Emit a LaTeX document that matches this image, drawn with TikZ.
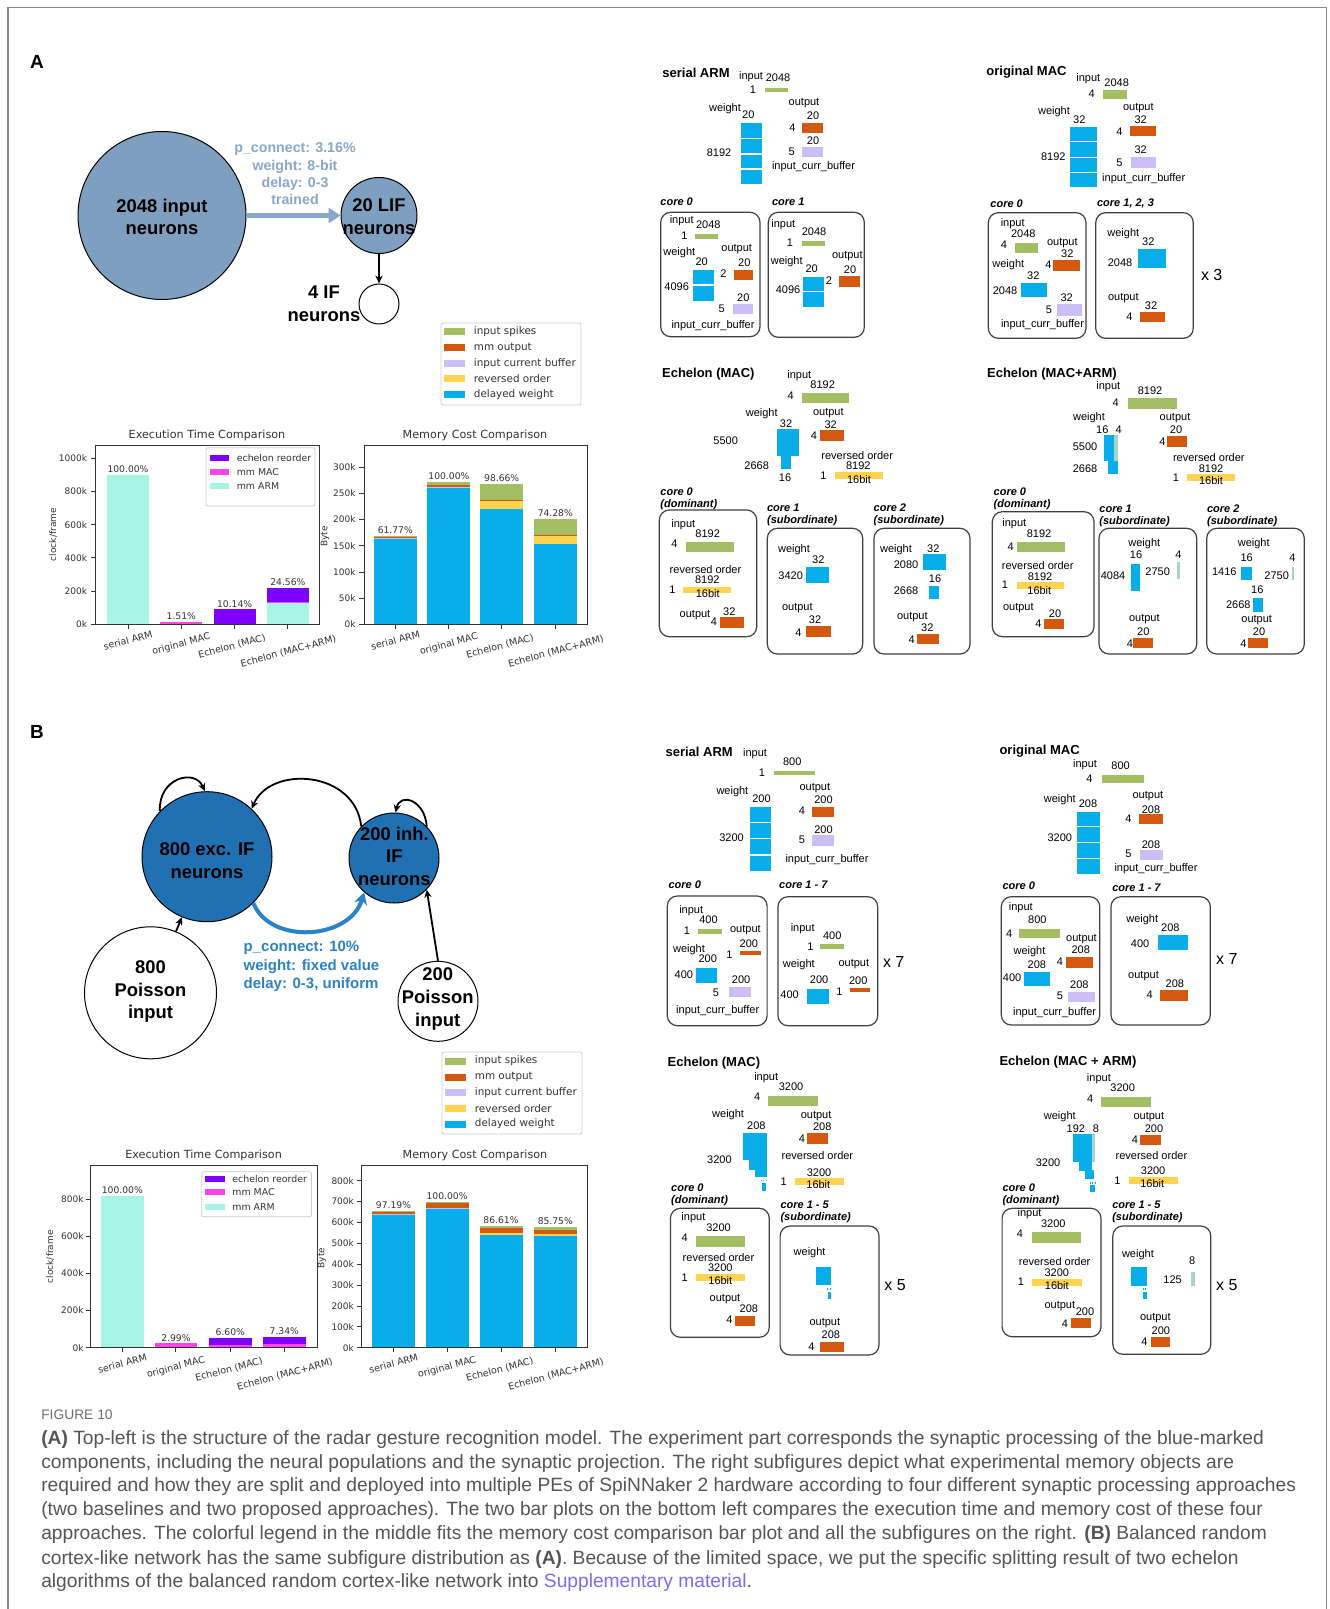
\documentclass[tikz,border=0pt]{standalone}
\usepackage{fontspec}
\setmainfont{Liberation Sans}
\newfontfamily\mplfont{DejaVu Sans}
\usetikzlibrary{arrows.meta}

\definecolor{frm}{HTML}{8A8A8A}
\definecolor{netA}{HTML}{7F9FC0}
\definecolor{arrA}{HTML}{89A8C9}
\definecolor{netB}{HTML}{2070B2}
\definecolor{arrB}{HTML}{2B82C6}
\definecolor{spk}{HTML}{A3BE63}
\definecolor{outc}{HTML}{D4590F}
\definecolor{bufc}{HTML}{CBBDF5}
\definecolor{revc}{HTML}{FFD24F}
\definecolor{wgtc}{HTML}{08AEEA}
\definecolor{tlc}{HTML}{A9D3C9}
\definecolor{mmarm}{HTML}{A6F4E3}
\definecolor{mmmac}{HTML}{FF44E8}
\definecolor{reord}{HTML}{8000FF}
\definecolor{axc}{HTML}{333333}
\definecolor{capc}{HTML}{555555}
\definecolor{linkc}{HTML}{7B6CF0}
\definecolor{boxc}{HTML}{404040}
\definecolor{legc}{HTML}{CCCCCC}

\newcounter{lc}
% small label
\newcommand\lb[2]{\stepcounter{lc}\node[lb] (l\arabic{lc}) at (#1) {#2};}
% sub-figure heading
\newcommand\hd[2]{\stepcounter{lc}\node[hdr] (l\arabic{lc}) at (#1) {#2};}
% core caption
\newcommand\cl[2]{\stepcounter{lc}\node[corel] (l\arabic{lc}) at (#1) {#2};}
% replication factor
\newcommand\rep[2]{\stepcounter{lc}\node[times] (l\arabic{lc}) at (#1) {#2};}
% memory object block
\newcommand\rc[3]{\fill[#1] (#2) rectangle (#3);}
% core frame
\newcommand\bx[2]{\draw[corebox] (#1) rectangle (#2);}
% divider inside a weight block
\newcommand\dv[3]{\draw[white, line width=0.6pt] (#1,#3) -- (#2,#3);}
% dotted continuation of an echelon
\newcommand\dt[3]{\draw[wgtc, line width=0.6pt, dash pattern=on 0.5pt off 0.8pt] (#1,#3) -- (#2,#3);}

\tikzset{
  x=0.5pt, y=-0.5pt,
  lb/.style={inner sep=0pt, font=\fontsize{5.5}{6.6}\selectfont},
  hdr/.style={inner sep=0pt, anchor=west, font=\bfseries\fontsize{6.5}{7.8}\selectfont},
  corel/.style={inner sep=0pt, anchor=west, align=left, font=\bfseries\itshape\fontsize{5.5}{6}\selectfont},
  times/.style={inner sep=0pt, font=\fontsize{8}{9}\selectfont},
  corebox/.style={draw=boxc, line width=0.6pt, rounded corners=5pt},
  netw/.style={inner sep=0pt, align=center, font=\bfseries\fontsize{9.2}{11.3}\selectfont},
  pop/.style={circle, draw=black, line width=0.5pt, inner sep=0pt},
  axl/.style={draw=axc, line width=0.45pt},
  tk/.style={inner sep=0pt, text=axc, font=\mplfont\fontsize{4.5}{5.4}\selectfont},
  xt/.style={inner sep=0pt, rotate=15, text=axc, font=\mplfont\fontsize{4.75}{5.6}\selectfont},
  ttl/.style={inner sep=0pt, text=axc, font=\mplfont\fontsize{5.6}{6.7}\selectfont},
  pct/.style={inner sep=0pt, anchor=south, yshift=0.8pt, text=axc, font=\mplfont\fontsize{4.6}{5.5}\selectfont},
  lgt/.style={inner sep=0pt, anchor=west, text=axc, font=\mplfont\fontsize{4.7}{5.6}\selectfont},
  mlg/.style={inner sep=0pt, anchor=west, text=axc, font=\mplfont\fontsize{5.2}{6.2}\selectfont},
  legbox/.style={draw=legc, line width=0.4pt, fill=white, rounded corners=1pt},
  captxt/.style={inner sep=0pt, anchor=west, text=capc, font=\fontsize{9.6}{12}\selectfont},
  blk/.style={line width=0.9pt, -{Stealth[length=4pt,width=3.6pt]}},
}

\begin{document}
\begin{tikzpicture}
\useasboundingbox (0,0) rectangle (1329,1609);
\clip (0,0) rectangle (1329,1609);
\fill[white] (0,0) rectangle (1329,1609);
\draw[frm, line width=0.9pt] (8,1620) -- (8,7.5) -- (1326.5,7.5) -- (1326.5,1620);

%% ================= PANEL A =================
\node[inner sep=0pt, font=\bfseries\fontsize{9.5}{11}\selectfont] (panA) at (37,62) {A};

% network
\node[pop, fill=netA, minimum size=84pt] (inA) at (162,215.5) {};
\node[netw] (inAt) at (162,217) {2048 input\\neurons};
\node[pop, fill=netA, minimum size=38pt] (lif) at (379,215.5) {};
\node[netw] (lift) at (379,216.5) {20 LIF\\neurons};
\node[pop, fill=white, minimum size=20pt] (ifn) at (379,304) {};
\node[netw] (ift) at (324,304) {4 IF\\neurons};
\draw[arrA, line width=2.4pt, -{Triangle[length=6pt,width=7.5pt]}] (inA.east) -- (lif.west);
\draw[blk] (lif.south) -- (ifn.north);
\node[inner sep=0pt, align=center, text=arrA, font=\bfseries\fontsize{7.1}{8.7}\selectfont] (pcA) at (295,174) {p\_connect: 3.16\%\\weight: 8-bit\\delay: 0-3\\trained};

% colour legend
\draw[legbox] (441,323) rectangle (581,405);
\rc{spk}{444,328.5}{465,335.5}  \node[mlg] (mlA1) at (473.5,332) {input spikes};
\rc{outc}{444,344.5}{465,351.5} \node[mlg] (mlA2) at (473.5,348) {mm output};
\rc{bufc}{444,360.5}{465,367.5} \node[mlg] (mlA3) at (473.5,364) {input current buffer};
\rc{revc}{444,375.5}{465,382.5} \node[mlg] (mlA4) at (473.5,379) {reversed order};
\rc{wgtc}{444,391.5}{465,398.5} \node[mlg] (mlA5) at (473.5,395) {delayed weight};

% execution time chart
\node[ttl] (etA) at (207,435.7) {Execution Time Comparison};
\begin{scope}[shift={(0,624.3)}, y=0.083pt]
  \fill[mmarm] (107,0) rectangle (149,900);
  \fill[mmmac] (160.3,0) rectangle (202.3,13.6);
  \fill[mmmac] (213.6,0) rectangle (255.6,3);
  \fill[reord] (213.6,3) rectangle (255.6,91.3);
  \fill[mmarm] (266.9,0) rectangle (308.9,130);
  \fill[mmmac] (266.9,130) rectangle (308.9,133);
  \fill[reord] (266.9,133) rectangle (308.9,221);
  \foreach \v in {0,200,400,600,800,1000} {
    \draw[axl] (95.4,\v) -- (90.6,\v);
    \node[tk, anchor=east] (ea\v) at (87.5,\v) {\v k};}
  \node[pct] (pA1) at (128,900) {100.00\%};
  \node[pct] (pA2) at (181.3,13.6) {1.51\%};
  \node[pct] (pA3) at (234.6,91.3) {10.14\%};
  \node[pct] (pA4) at (287.9,221) {24.56\%};
\end{scope}
\draw[axl] (95.4,445) rectangle (319.6,624.3);
\foreach \x in {128,181.3,234.6,287.9} \draw[axl] (\x,624.3) -- (\x,628.8);
\node[tk, rotate=90] (ylA) at (53,534.6) {clock/frame};
\node[xt] (xA1) at (128,640.3) {serial ARM};
\node[xt] (xA2) at (181.3,644.3) {original MAC};
\node[xt] (xA3) at (232,646.5) {Echelon (MAC)};
\node[xt] (xA4) at (288.5,651.5) {Echelon (MAC+ARM)};
\draw[legbox] (206,447.7) rectangle (315,506);
\fill[reord] (209.6,454.7) rectangle (228.6,460.7) ; \node[lgt] (lgA1) at (236.4,457.7) {echelon reorder};
\fill[mmmac] (209.6,468.7) rectangle (228.6,474.7) ; \node[lgt] (lgA2) at (236.4,471.7) {mm MAC};
\fill[mmarm] (209.6,483) rectangle (228.6,489) ; \node[lgt] (lgA3) at (236.4,486) {mm ARM};

% memory cost chart
\node[ttl] (mtA) at (475,435.7) {Memory Cost Comparison};
\begin{scope}[shift={(0,624.3)}, y=0.26167pt]
  \fill[wgtc] (373.8,0) rectangle (416.8,164);
  \fill[bufc] (373.8,164) rectangle (416.8,165);
  \fill[outc] (373.8,165) rectangle (416.8,166.5);
  \fill[spk]  (373.8,166.5) rectangle (416.8,169);
  \fill[wgtc] (427.4,0) rectangle (470.4,262);
  \fill[bufc] (427.4,262) rectangle (470.4,263);
  \fill[outc] (427.4,263) rectangle (470.4,266);
  \fill[spk]  (427.4,266) rectangle (470.4,272);
  \fill[wgtc] (480.2,0) rectangle (523.2,220);
  \fill[revc] (480.2,220) rectangle (523.2,236);
  \fill[outc] (480.2,236) rectangle (523.2,238);
  \fill[spk]  (480.2,238) rectangle (523.2,268);
  \fill[wgtc] (533.8,0) rectangle (576.8,153);
  \fill[revc] (533.8,153) rectangle (576.8,169);
  \fill[outc] (533.8,169) rectangle (576.8,171);
  \fill[spk]  (533.8,171) rectangle (576.8,202);
  \foreach \v in {0,50,100,150,200,250,300} {
    \draw[axl] (364,\v) -- (359.2,\v);
    \node[tk, anchor=east] (ma\v) at (356,\v) {\v k};}
  \node[pct] (qA1) at (395.3,169) {61.77\%};
  \node[pct] (qA2) at (448.9,272) {100.00\%};
  \node[pct] (qA3) at (501.7,268) {98.66\%};
  \node[pct] (qA4) at (555.3,202) {74.28\%};
\end{scope}
\draw[axl] (364,445) rectangle (587.5,624.3);
\foreach \x in {395.3,448.9,501.7,555.3} \draw[axl] (\x,624.3) -- (\x,628.8);
\node[tk, rotate=90] (byA) at (325,536.7) {Byte};
\node[xt] (yA1) at (395.3,640.3) {serial ARM};
\node[xt] (yA2) at (448.9,644.3) {original MAC};
\node[xt] (yA3) at (500,646.5) {Echelon (MAC)};
\node[xt] (yA4) at (556,651.5) {Echelon (MAC+ARM)};

% ---- serial ARM (A)
\hd{662,72.7}{serial ARM}
\lb{751,76.7}{input} \lb{778,77.7}{2048} \lb{753,89.3}{1} \rc{spk}{765,87.7}{787.7,92}
\lb{725,108.3}{weight} \lb{748.3,114.3}{20}
\rc{wgtc}{741,123.3}{762,184.3} \dv{741}{762}{138.3} \dv{741}{762}{154} \dv{741}{762}{169}
\lb{719,152.7}{8192}
\lb{804,103.3}{output} \lb{813,116}{20} \lb{792.3,127.3}{4} \rc{outc}{802.3,122.7}{823.3,132.7}
\lb{813,140.7}{20} \lb{791.7,151.7}{5} \rc{bufc}{802.3,146.7}{823.3,157.3}
\lb{813.5,166.7}{input\_curr\_buffer}
\cl{660,201.7}{core 0} \cl{771.7,201.7}{core 1}
\bx{660.7,212.3}{760,336.7} \bx{768.3,212.3}{864.3,337.3}
\lb{681.7,220.7}{input} \lb{708.3,225}{2048} \lb{684.3,236}{1} \rc{spk}{695,234.3}{718.3,239}
\lb{679.3,252.7}{weight} \lb{701.7,261.7}{20} \lb{736.7,249.3}{output} \lb{744.3,262.7}{20}
\lb{723.3,273.3}{2} \rc{outc}{734,270}{753.3,280}
\rc{wgtc}{693.3,270}{714,300.7} \dv{693.3}{714}{285} \lb{676.7,286.7}{4096}
\lb{743.3,297.3}{20} \lb{721.7,308.3}{5} \rc{bufc}{732.7,304}{753.3,314.3}
\lb{713,326}{input\_curr\_buffer}
\lb{783.3,225}{input} \lb{814,231.7}{2048} \lb{790,242.7}{1} \rc{spk}{801.7,241}{825,245.7}
\lb{786.7,261.7}{weight} \lb{811.7,268.3}{20} \lb{847.3,255.7}{output} \lb{850,269.3}{20}
\lb{829,280.7}{2} \rc{outc}{839.3,276}{860,286.7}
\rc{wgtc}{802.7,276.7}{824,306.7} \dv{802.7}{824}{291.7} \lb{788,290}{4096}

% ---- original MAC (A)
\hd{986,71.7}{original MAC}
\lb{1088.3,78.3}{input} \lb{1116.7,82.3}{2048} \lb{1091.7,93.3}{4} \rc{spk}{1103.3,90}{1126.7,99}
\lb{1054,111.7}{weight} \lb{1079.3,119.3}{32}
\rc{wgtc}{1070,126.7}{1096.7,187.3} \dv{1070}{1096.7}{141.7} \dv{1070}{1096.7}{157.3} \dv{1070}{1096.7}{172.7}
\lb{1053.3,156.7}{8192}
\lb{1138.3,108.3}{output} \lb{1140.7,120}{32} \lb{1119.3,131.7}{4} \rc{outc}{1130,126}{1155.7,136}
\lb{1140.7,150}{32} \lb{1119.3,162.7}{5} \rc{bufc}{1130.7,157.3}{1155.7,168.3}
\lb{1143.7,178.3}{input\_curr\_buffer}
\cl{990,204}{core 0} \cl{1096.7,204}{core 1, 2, 3}
\bx{988.3,212.7}{1086,338.3} \bx{1095.7,212.7}{1193.3,338.3}
\rep{1211.7,275}{x 3}
\lb{1012.7,223.3}{input} \lb{1023.3,234}{2048} \lb{1004,244.3}{4} \rc{spk}{1015,242.7}{1037.7,253.3}
\lb{1062.3,243.3}{output} \lb{1067.3,253.3}{32} \lb{1048.3,265}{4} \rc{outc}{1053.3,260}{1080,271}
\lb{1008.3,264.3}{weight} \lb{1033.3,276}{32} \lb{1005,290.7}{2048} \rc{wgtc}{1020.7,282.7}{1046.7,297.3}
\lb{1066.7,297.7}{32} \lb{1049,309.3}{5} \rc{bufc}{1056.7,304}{1081.7,315.7}
\lb{1042.5,325}{input\_curr\_buffer}
\lb{1123.3,233.3}{weight} \lb{1148.3,241.7}{32} \lb{1120,262.3}{2048} \rc{wgtc}{1138.3,249}{1166,268.3}
\lb{1123.3,298.3}{output} \lb{1151,306}{32} \lb{1129.3,316.7}{4} \rc{outc}{1140,311.7}{1165,321.7}

% ---- Echelon (MAC) (A)
\hd{661.7,374}{Echelon (MAC)}
\lb{799.3,376}{input} \lb{822.7,385}{8192} \lb{790.7,396}{4} \rc{spk}{801.7,393.3}{849.3,403.3}
\lb{761.7,413.3}{weight} \lb{786,424}{32}
\lb{828.3,413.3}{output} \lb{830.7,425}{32} \lb{814,436}{4} \rc{outc}{820,430}{844,440.7}
\rc{wgtc}{776.7,429.3}{799.3,456} \rc{wgtc}{780.7,455.5}{790.7,469}
\lb{725.7,440.7}{5500} \lb{756.7,466}{2668} \lb{785,477.7}{16}
\lb{857.2,456}{reversed order} \lb{858.3,465.7}{8192} \lb{823.3,476}{1} \rc{revc}{835,472.3}{883.3,479} \lb{859,479.3}{16bit}
\cl{660,498.3}{core 0\\(dominant)} \bx{659.3,510}{756.7,636.7}
\cl{766.7,515}{core 1\\(subordinate)} \bx{767.3,528.3}{862.7,654}
\cl{873.3,515}{core 2\\(subordinate)} \bx{874,528.3}{970,654}
\lb{683.3,525}{input} \lb{707.7,533.3}{8192} \lb{674.3,544}{4} \rc{spk}{685.7,542.3}{734.3,552.3}
\lb{705.5,570}{reversed order} \lb{707.3,580}{8192} \lb{672.3,589.3}{1} \rc{revc}{683.3,586.7}{730.7,593.3} \lb{707.7,593.3}{16bit}
\lb{695,615}{output} \lb{729.3,611.7}{32} \lb{714,621.7}{4} \rc{outc}{720,616.7}{744.3,628.3}
\lb{794,549.3}{weight} \lb{818.3,559.3}{32} \lb{790.7,576}{3420} \rc{wgtc}{806,566.7}{829.3,583.3}
\lb{797.3,607.7}{output} \lb{815,619.3}{32} \lb{798.3,632.3}{4} \rc{outc}{806,626}{830.7,637.3}
\lb{896,549.3}{weight} \lb{933.3,549}{32} \lb{906,564.3}{2080} \rc{wgtc}{922.7,554.3}{945.7,570}
\lb{935,578.3}{16} \lb{906,591}{2668} \rc{wgtc}{929.3,586}{939.3,599.3}
\lb{912.3,616.7}{output} \lb{927.3,627.7}{32} \lb{911.7,639.3}{4} \rc{outc}{916.7,634}{939.3,644}

% ---- Echelon (MAC+ARM) (A)
\hd{986.7,374}{Echelon (MAC+ARM)}
\lb{1108.3,386.7}{input} \lb{1150,390.7}{8192} \lb{1115.7,402.7}{4} \rc{spk}{1128.3,398.3}{1176.7,409}
\lb{1089,417.3}{weight} \lb{1102.3,430}{16} \lb{1118.7,430}{4}
\rc{wgtc}{1104.3,435}{1114.3,461} \rc{wgtc}{1108.3,460.5}{1117.7,474.3} \rc{tlc}{1114.3,435}{1117.7,461}
\lb{1085,446.7}{5500} \lb{1085,468.3}{2668}
\lb{1175,418.3}{output} \lb{1176,430}{20} \lb{1162.3,441.7}{4} \rc{outc}{1166.7,436}{1186.7,446.7}
\lb{1208.8,457.3}{reversed order} \lb{1211,468.3}{8192} \lb{1176,477.3}{1} \rc{revc}{1186.7,474}{1235,480.7} \lb{1211,480.7}{16bit}
\cl{993.3,498.8}{core 0\\(dominant)} \bx{992.3,511.7}{1094,636.7}
\cl{1099,515.8}{core 1\\(subordinate)} \bx{1099,528.3}{1196.7,654}
\cl{1206.7,515.8}{core 2\\(subordinate)} \bx{1206.7,528.3}{1304.3,654}
\lb{1014.3,524}{input} \lb{1039,533.3}{8192} \lb{1010.7,546.7}{4} \rc{spk}{1016.7,541.7}{1065,551.7}
\lb{1037.7,566}{reversed order} \lb{1040,576.7}{8192} \lb{1005,585}{1} \rc{revc}{1016.7,582.3}{1064.3,589} \lb{1039.3,590.7}{16bit}
\lb{1018.3,608.3}{output} \lb{1055,613.3}{20} \lb{1038.3,624}{4} \rc{outc}{1044,619}{1064.3,629}
\lb{1144.3,544}{weight} \lb{1136,555}{16} \lb{1178.3,555}{4} \lb{1113,575.7}{4084} \rc{wgtc}{1131,564.3}{1140,591}
\lb{1157.7,571.7}{2750} \rc{tlc}{1176.7,562.3}{1180,579}
\lb{1144.3,619.3}{output} \lb{1143.3,631.7}{20} \lb{1130,643.3}{4} \rc{outc}{1133.3,637.7}{1153.3,647.7}
\lb{1253.7,544}{weight} \lb{1246.7,557.3}{16} \lb{1292.3,557.3}{4} \lb{1224.3,571.7}{1416} \rc{wgtc}{1241,566.7}{1251.7,580}
\lb{1276.7,576}{2750} \rc{tlc}{1291.7,567.3}{1294.3,580}
\lb{1257.3,589.3}{16} \lb{1238.3,605}{2668} \rc{wgtc}{1253.3,597.7}{1263.3,611.7}
\lb{1256.7,620}{output} \lb{1259,631.7}{20} \lb{1243.3,643.3}{4} \rc{outc}{1248.3,638.3}{1268.3,648.3}

%% ================= PANEL B =================
\node[inner sep=0pt, font=\bfseries\fontsize{9.5}{11}\selectfont] (panB) at (37,731.7) {B};

% network
\node[pop, fill=netB, minimum size=65pt] (exc) at (207,856.7) {};
\node[netw] (exct) at (207,860.5) {800 exc. IF\\neurons};
\node[pop, fill=netB, minimum size=45pt] (inh) at (394,858) {};
\node[netw] (inht) at (394.4,856.3) {200 inh.\\IF\\neurons};
\node[pop, fill=white, minimum size=66pt] (pa) at (150.5,992.8) {};
\node[netw] (pat) at (150.5,991.8) {800\\Poisson\\input};
\node[pop, fill=white, minimum size=40pt] (pb) at (438,1001.3) {};
\node[netw] (pbt) at (437.7,999) {200\\Poisson\\input};
\draw[blk] (pa) -- (exc);
\draw[blk] (pb.north) -- (inh.-44);
\draw[blk] (inh.136) .. controls (355,770) and (270,765) .. (exc.47);
\draw[blk] (exc.136) .. controls (158,778) and (195,768) .. (exc.92);
\draw[blk] (inh.44) .. controls (425,800) and (400,792) .. (inh.88);
\draw[arrB, line width=2pt, -{Stealth[length=6pt,width=6.5pt]}] (exc.-45) .. controls (270,945) and (350,940) .. (inh.-131);
\node[inner sep=0pt, anchor=west, align=left, text=arrB, font=\bfseries\fontsize{7.5}{9.2}\selectfont] (pcB) at (243.3,966.7) {p\_connect: 10\%\\weight: fixed value\\delay: 0-3, uniform};

% colour legend
\draw[legbox] (442,1052) rectangle (582,1134);
\rc{spk}{445,1057.5}{466,1064.5}   \node[mlg] (mlB1) at (474.5,1061) {input spikes};
\rc{outc}{445,1073.5}{466,1080.5}  \node[mlg] (mlB2) at (474.5,1077) {mm output};
\rc{bufc}{445,1089.2}{466,1096.2}  \node[mlg] (mlB3) at (474.5,1092.7) {input current buffer};
\rc{revc}{445,1104.8}{466,1111.8}  \node[mlg] (mlB4) at (474.5,1108.3) {reversed order};
\rc{wgtc}{445,1120.5}{466,1127.5}  \node[mlg] (mlB5) at (474.5,1124) {delayed weight};

% execution time chart
\node[ttl] (etB) at (203.6,1155.7) {Execution Time Comparison};
\begin{scope}[shift={(0,1347.7)}, y=0.09275pt]
  \fill[mmarm] (101,0) rectangle (143.5,820);
  \fill[mmmac] (154.6,0) rectangle (197.1,24.5);
  \fill[mmmac] (209,0) rectangle (251.5,14);
  \fill[reord] (209,14) rectangle (251.5,54);
  \fill[mmarm] (263,0) rectangle (305.5,4);
  \fill[mmmac] (263,4) rectangle (305.5,22);
  \fill[reord] (263,22) rectangle (305.5,60);
  \foreach \v in {0,200,400,600,800} {
    \draw[axl] (90,\v) -- (86,\v);
    \node[tk, anchor=east] (eb\v) at (84,\v) {\v k};}
  \node[pct] (pB1) at (122.3,820) {100.00\%};
  \node[pct] (pB2) at (175.9,24.5) {2.99\%};
  \node[pct] (pB3) at (230.3,54) {6.60\%};
  \node[pct] (pB4) at (284.3,60) {7.34\%};
\end{scope}
\draw[axl] (90,1165.7) rectangle (317,1347.7);
\foreach \x in {122.3,175.9,230.3,284.3} \draw[axl] (\x,1347.7) -- (\x,1352.2);
\node[tk, rotate=90] (ylB) at (50,1256.7) {clock/frame};
\node[xt] (xB1) at (122.3,1363.5) {serial ARM};
\node[xt] (xB2) at (175.9,1367.5) {original MAC};
\node[xt] (xB3) at (229,1369.7) {Echelon (MAC)};
\node[xt] (xB4) at (285,1374.7) {Echelon (MAC+ARM)};
\draw[legbox] (201.8,1171.7) rectangle (311.4,1216.7);
\fill[reord] (205,1175.7) rectangle (225,1181.7) ; \node[lgt] (lgB1) at (232,1178.7) {echelon reorder};
\fill[mmmac] (205,1189.3) rectangle (225,1195.3) ; \node[lgt] (lgB2) at (232,1192.3) {mm MAC};
\fill[mmarm] (205,1203.7) rectangle (225,1209.7) ; \node[lgt] (lgB3) at (232,1206.7) {mm ARM};

% memory cost chart
\node[ttl] (mtB) at (475,1155.7) {Memory Cost Comparison};
\begin{scope}[shift={(0,1347.7)}, y=0.104375pt]
  \fill[wgtc] (372,0) rectangle (415,640);
  \fill[bufc] (372,640) rectangle (415,642);
  \fill[outc] (372,642) rectangle (415,652);
  \fill[spk]  (372,652) rectangle (415,656);
  \fill[wgtc] (425.6,0) rectangle (468.6,668);
  \fill[bufc] (425.6,668) rectangle (468.6,670);
  \fill[outc] (425.6,670) rectangle (468.6,695);
  \fill[spk]  (425.6,695) rectangle (468.6,700);
  \fill[wgtc] (479.5,0) rectangle (522.5,541);
  \fill[revc] (479.5,541) rectangle (522.5,550);
  \fill[outc] (479.5,550) rectangle (522.5,572);
  \fill[spk]  (479.5,572) rectangle (522.5,585);
  \fill[wgtc] (533.8,0) rectangle (576.8,535);
  \fill[revc] (533.8,535) rectangle (576.8,545);
  \fill[outc] (533.8,545) rectangle (576.8,566);
  \fill[spk]  (533.8,566) rectangle (576.8,578);
  \foreach \v in {0,100,200,300,400,500,600,700,800} {
    \draw[axl] (361.4,\v) -- (357,\v);
    \node[tk, anchor=east] (mb\v) at (354.3,\v) {\v k};}
  \node[pct] (qB1) at (393.5,656) {97.19\%};
  \node[pct] (qB2) at (447.1,700) {100.00\%};
  \node[pct] (qB3) at (501,585) {86.61\%};
  \node[pct] (qB4) at (555.3,578) {85.75\%};
\end{scope}
\draw[axl] (361.4,1165.7) rectangle (587.5,1347.7);
\foreach \x in {393.5,447.1,501,555.3} \draw[axl] (\x,1347.7) -- (\x,1352.2);
\node[tk, rotate=90] (byB) at (322,1258) {Byte};
\node[xt] (yB1) at (393.5,1363.5) {serial ARM};
\node[xt] (yB2) at (447.1,1367.5) {original MAC};
\node[xt] (yB3) at (499.7,1369.7) {Echelon (MAC)};
\node[xt] (yB4) at (556,1374.7) {Echelon (MAC+ARM)};

% ---- serial ARM (B)
\hd{665.2,751.7}{serial ARM}
\lb{755,754}{input} \lb{792.2,761.7}{800} \lb{762,772.3}{1} \rc{spk}{773.6,770.7}{814.8,775}
\lb{732.4,791.7}{weight} \lb{761.5,798.3}{200}
\rc{wgtc}{749.7,807.3}{771.4,870.7} \dv{749.7}{771.4}{822.7} \dv{749.7}{771.4}{838.3} \dv{749.7}{771.4}{855}
\lb{731.5,837.3}{3200}
\lb{814.8,787.7}{output} \lb{823.5,799.3}{200} \lb{801.8,810.7}{4} \rc{outc}{811.8,807.3}{833.5,817.3}
\lb{823.5,829.3}{200} \lb{801.8,839.3}{5} \rc{bufc}{811.8,835}{833.5,846}
\lb{827,860}{input\_curr\_buffer}
\cl{668.2,884.3}{core 0} \cl{778.8,884.3}{core 1 - 7}
\bx{667.3,896}{767.1,1025.7} \bx{778,896.7}{877.7,1025.7}
\rep{893.7,961.7}{x 7}
\lb{691.2,910.7}{input} \lb{708.5,920}{400} \lb{686.9,931}{1} \rc{spk}{697.7,929.3}{722.4,934.3}
\lb{745.4,930}{output} \lb{689,950}{weight} \lb{707.7,958.3}{200} \lb{748.9,944}{200}
\lb{729.4,955}{1} \rc{outc}{739.8,951}{760.6,955}
\rc{wgtc}{695.5,968.3}{717.2,983.3} \lb{683.8,975}{400}
\lb{741.1,979.3}{200} \lb{715.9,992.7}{5} \rc{bufc}{729.4,986.7}{751,997.3}
\lb{717.7,1011}{input\_curr\_buffer}
\lb{802.7,929}{input} \lb{832.2,935.7}{400} \lb{810.5,946.7}{1} \rc{spk}{820.4,944.3}{844.3,948.7}
\lb{798.8,964.3}{weight} \lb{853.8,964.3}{output} \lb{819.1,980}{200} \lb{858.2,981}{200}
\lb{839.5,991.7}{1} \rc{outc}{849.5,987.7}{870.3,991.7}
\lb{789.6,995}{400} \rc{wgtc}{807,989.3}{828.7,1004.3}

% ---- original MAC (B)
\hd{999.1,751}{original MAC}
\lb{1085,765}{input} \lb{1120.6,766}{800} \lb{1089.3,778.3}{4} \rc{spk}{1102.3,775}{1144.4,783.3}
\lb{1059.8,800}{weight} \lb{1088,803.3}{208}
\rc{wgtc}{1077.2,811.7}{1100.2,874} \dv{1077.2}{1100.2}{826.7} \dv{1077.2}{1100.2}{842.7} \dv{1077.2}{1100.2}{858.3}
\lb{1059.8,837.3}{3200}
\lb{1147.9,796}{output} \lb{1151,809.3}{208} \lb{1128.4,819}{4} \rc{outc}{1139.2,814.3}{1162.6,824.3}
\lb{1151,845}{208} \lb{1128.4,853.3}{5} \rc{bufc}{1140.1,850}{1162.6,860}
\lb{1156,868.3}{input\_curr\_buffer}
\cl{1002.1,886}{core 0} \cl{1111.9,887.3}{core 1 - 7}
\bx{1001.3,896.7}{1099.8,1025} \bx{1111,896.7}{1210.3,1025}
\rep{1226.8,959.3}{x 7}
\lb{1020.8,907.7}{input} \lb{1037.3,920}{800} \lb{1009.1,933.3}{4} \rc{spk}{1018.6,929.3}{1059.8,938.3}
\lb{1081.5,939}{output} \lb{1080.7,950}{208} \lb{1029.5,951.7}{weight} \lb{1036.9,964.3}{208}
\lb{1059.8,961.7}{4} \rc{outc}{1065.5,956.7}{1093.2,968.3}
\lb{1012.1,977.7}{400} \rc{wgtc}{1023.8,971.7}{1049.9,986}
\lb{1079.4,985}{208} \lb{1059.8,996}{5} \rc{bufc}{1067.6,991.7}{1094.5,1001.7}
\lb{1054.6,1012.7}{input\_curr\_buffer}
\lb{1142.2,920}{weight} \lb{1170.4,927.7}{208} \lb{1140.1,943.3}{400} \rc{wgtc}{1158.3,935}{1187.8,950}
\lb{1143.5,976}{output} \lb{1174.8,983.3}{208} \lb{1149.6,995}{4} \rc{outc}{1159.6,990}{1187.8,1001}

% ---- Echelon (MAC) (B)
\hd{667.3,1062.7}{Echelon (MAC)}
\lb{766.2,1077.3}{input} \lb{791,1086.7}{3200} \lb{757.1,1096.7}{4} \rc{spk}{768,1096}{818.3,1106}
\lb{728.1,1115}{weight} \lb{756.3,1126}{208}
\rc{wgtc}{743.2,1132.7}{767.1,1160.3} \rc{wgtc}{748.9,1159.7}{767.1,1170.3} \rc{wgtc}{755.4,1169.7}{767.1,1177.3}
\dt{760.5}{767.5}{1180.7} \rc{wgtc}{761.9,1183.3}{766.2,1190.7}
\lb{719.4,1160}{3200}
\lb{816.1,1115.7}{output} \lb{822.2,1126.7}{208} \lb{801.8,1138.3}{4} \rc{outc}{807.4,1133.3}{827.8,1144}
\lb{817.4,1155.7}{reversed order} \lb{819.1,1172.3}{3200} \lb{783.6,1181.7}{1} \rc{revc}{795.3,1178.3}{844.3,1185} \lb{818.3,1185}{16bit}
\cl{670.8,1195}{core 0\\(dominant)} \bx{670.4,1208.3}{769.3,1337.3}
\cl{780.1,1212.3}{core 1 - 5\\(subordinate)} \bx{780.1,1226}{879,1355}
\rep{895,1285}{x 5}
\lb{693.4,1217.3}{input} \lb{718.5,1227.3}{3200} \lb{684.7,1237.7}{4} \rc{spk}{695.5,1236}{744.5,1246.7}
\lb{718.5,1257.3}{reversed order} \lb{720.3,1267.7}{3200} \lb{684.7,1277.7}{1} \rc{revc}{695.5,1274}{744.5,1281} \lb{720.3,1281}{16bit}
\lb{725,1299.3}{output} \lb{748.9,1309}{208} \lb{729.4,1320}{4} \rc{outc}{734.6,1315.7}{755.4,1325.7}
\lb{809.6,1252.7}{weight} \rc{wgtc}{816.1,1266.7}{831.3,1285}
\dt{827.3}{832}{1289} \rc{wgtc}{827.8,1292.3}{831.3,1299}
\lb{824.8,1323.3}{output} \lb{830.9,1335}{208} \lb{811.3,1346.7}{4} \rc{outc}{820.4,1341.7}{843.9,1351.7}

% ---- Echelon (MAC + ARM) (B)
\hd{999.1,1062.3}{Echelon (MAC + ARM)}
\lb{1098.9,1078.3}{input} \lb{1122.7,1087.7}{3200} \lb{1090.2,1098.3}{4} \rc{spk}{1101,1096.7}{1150.9,1107.3}
\lb{1059.8,1116.7}{weight} \lb{1075.9,1129}{192} \lb{1095.8,1129}{8}
\rc{wgtc}{1072.9,1134.3}{1091.5,1162} \rc{tlc}{1091.5,1134.3}{1095.4,1161.7}
\rc{wgtc}{1078.5,1161.4}{1092.4,1171} \rc{wgtc}{1084.5,1170.4}{1094.4,1179}
\dt{1089.5}{1095}{1183} \rc{wgtc}{1090.2,1185}{1094.5,1191.7}
\lb{1048.1,1162.3}{3200}
\lb{1148.8,1116.7}{output} \lb{1154,1128.3}{200} \lb{1134.9,1140}{4} \rc{outc}{1140.1,1135}{1160.5,1145}
\lb{1151.4,1155.7}{reversed order} \lb{1153.1,1171}{3200} \lb{1117.5,1180.7}{1} \rc{revc}{1129.2,1177.3}{1178.2,1184} \lb{1152.2,1184}{16bit}
\cl{1002.1,1194.3}{core 0\\(dominant)} \bx{1002.1,1208.3}{1101,1336.7}
\cl{1111.9,1211.8}{core 1 - 5\\(subordinate)} \bx{1112.8,1226}{1210.8,1354.3}
\rep{1226.8,1285}{x 5}
\lb{1029.5,1213.3}{input} \lb{1053.3,1223.3}{3200} \lb{1020,1233.3}{4} \rc{spk}{1031.6,1232.3}{1080.7,1242.7}
\lb{1054.6,1261.7}{reversed order} \lb{1056.8,1272.3}{3200} \lb{1020.8,1281.7}{1} \rc{revc}{1031.6,1279}{1081.5,1285.7} \lb{1056.8,1285.7}{16bit}
\lb{1059.8,1306}{output} \lb{1085,1311.7}{200} \lb{1065,1323.3}{4} \rc{outc}{1070.7,1318.3}{1091.1,1328.3}
\lb{1137.9,1255}{weight} \lb{1192.1,1260.7}{8} \lb{1172.6,1279.3}{125} \rc{tlc}{1191.2,1271.7}{1194.7,1285.7}
\rc{wgtc}{1131.4,1266.7}{1146.6,1285.7} \dt{1142.6}{1147.2}{1289} \rc{wgtc}{1143.1,1292.3}{1146.6,1299}
\lb{1155.3,1318.3}{output} \lb{1160.9,1330.7}{200} \lb{1144.4,1341.7}{4} \rc{outc}{1151,1336.7}{1170.4,1346.7}

%% ================= CAPTION =================
\node[captxt, font=\fontsize{6.9}{8}\selectfont, text=capc!85] (fig) at (40.9,1415) {FIGURE 10};
\node[captxt] (c1) at (40.9,1439.3) {\textbf{(A)} Top-left is the structure of the radar gesture recognition model. The experiment part corresponds the synaptic processing of the blue-marked};
\node[captxt] (c2) at (40.9,1463.3) {components, including the neural populations and the synaptic projection. The right subfigures depict what experimental memory objects are};
\node[captxt] (c3) at (40.9,1486.7) {required and how they are split and deployed into multiple PEs of SpiNNaker 2 hardware according to four different synaptic processing approaches};
\node[captxt] (c4) at (40.9,1510.7) {(two baselines and two proposed approaches). The two bar plots on the bottom left compares the execution time and memory cost of these four};
\node[captxt] (c5) at (40.9,1535) {approaches. The colorful legend in the middle fits the memory cost comparison bar plot and all the subfigures on the right. \textbf{(B)} Balanced random};
\node[captxt] (c6) at (40.9,1559.3) {cortex-like network has the same subfigure distribution as \textbf{(A)}. Because of the limited space, we put the specific splitting result of two echelon};
\node[captxt] (c7) at (40.9,1582.7) {algorithms of the balanced random cortex-like network into \textcolor{linkc}{Supplementary material}.};
\end{tikzpicture}
\end{document}
